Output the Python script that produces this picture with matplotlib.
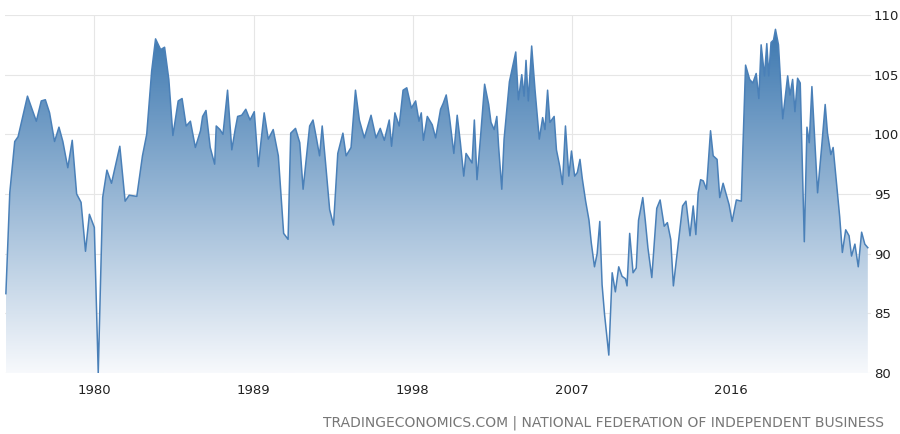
import matplotlib.pyplot as plt
import numpy as np
from matplotlib.patches import Polygon

# NFIB small business optimism index
years = [
    1975.0, 1975.22, 1975.5, 1975.69, 1976.22, 1976.72, 1977.0, 1977.23, 1977.47, 1977.75,
    1978.0, 1978.22, 1978.5, 1978.75, 1979.0, 1979.25, 1979.5, 1979.72, 1980.0, 1980.22,
    1980.47, 1980.71, 1980.97, 1981.44, 1981.74, 1981.97, 1982.4, 1982.72, 1982.96, 1983.24,
    1983.46, 1983.75, 1983.97, 1984.21, 1984.44, 1984.74, 1984.96, 1985.19, 1985.43, 1985.71,
    1986.0, 1986.12, 1986.31, 1986.55, 1986.8, 1986.89, 1987.1, 1987.27, 1987.53, 1987.77,
    1987.96, 1988.1, 1988.33, 1988.56, 1988.8, 1989.04, 1989.27, 1989.42, 1989.6, 1989.83,
    1990.11, 1990.4, 1990.7, 1990.95,
    1991.1, 1991.37, 1991.61, 1991.8, 1992.17, 1992.36, 1992.55, 1992.73, 1992.88, 1993.07,
    1993.3, 1993.52, 1993.76, 1994.05, 1994.23, 1994.51, 1994.76, 1994.98, 1995.26, 1995.64,
    1995.92, 1996.16, 1996.39, 1996.67, 1996.8, 1996.99, 1997.23, 1997.45, 1997.66, 1997.92,
    1998.16, 1998.35, 1998.48, 1998.6, 1998.82, 1999.1, 1999.29, 1999.57, 1999.72, 1999.89,
    2000.07, 2000.32, 2000.51, 2000.69, 2000.88, 2001.01, 2001.22, 2001.35, 2001.48, 2001.63,
    2001.82, 2002.06, 2002.29, 2002.42, 2002.6, 2002.75, 2002.85, 2003.03, 2003.16, 2003.46,
    2003.82, 2003.97, 2004.16, 2004.29, 2004.4, 2004.53, 2004.72, 2004.91, 2005.15, 2005.34,
    2005.47, 2005.62, 2005.75, 2005.99, 2006.12, 2006.31, 2006.46, 2006.63, 2006.82, 2006.97,
    2007.15,
    2007.3, 2007.45, 2007.58, 2007.77, 2007.96, 2008.09, 2008.27, 2008.42, 2008.57, 2008.7,
    2008.84, 2009.08, 2009.27, 2009.45, 2009.64, 2009.83, 2010.02, 2010.11, 2010.26, 2010.45,
    2010.63, 2010.76, 2011.0, 2011.14, 2011.29, 2011.51, 2011.79, 2011.98, 2012.21, 2012.39,
    2012.58, 2012.73, 2013.01, 2013.25, 2013.44, 2013.67, 2013.85, 2014.0, 2014.13, 2014.27,
    2014.42, 2014.6, 2014.83, 2014.98, 2015.2, 2015.35, 2015.54, 2015.69, 2015.88, 2016.05,
    2016.29, 2016.57, 2016.66, 2016.81, 2017.04, 2017.22, 2017.41, 2017.56, 2017.69, 2017.88,
    2018.01, 2018.12, 2018.25, 2018.39, 2018.5, 2018.67, 2018.91, 2019.19, 2019.32, 2019.47,
    2019.6, 2019.75, 2019.9, 2020.13, 2020.28, 2020.41, 2020.56, 2020.69, 2020.88, 2021.12,
    2021.31, 2021.44, 2021.63, 2021.76, 2021.95, 2022.13, 2022.28, 2022.47, 2022.66, 2022.8,
    2022.99, 2023.18, 2023.37, 2023.55, 2023.72,
]
values = [
    86.65, 95.1, 99.4, 99.8, 103.2, 101.1, 102.8, 102.9, 101.8, 99.4,
    100.6, 99.4, 97.2, 99.5, 95.0, 94.3, 90.2, 93.3, 92.2, 80.0,
    94.7, 97.0, 95.9, 99.0, 94.4, 94.9, 94.8, 98.2, 100.0, 105.3,
    108.0, 107.1, 107.3, 104.6, 99.9, 102.8, 103.0, 100.7, 101.1, 98.9,
    100.3, 101.5, 102.0, 98.9, 97.5, 100.7, 100.4, 100.0, 103.7, 98.7,
    100.4, 101.5, 101.6, 102.1, 101.2, 101.9, 97.3, 99.4, 101.8, 99.6,
    100.4, 98.2, 91.7, 91.2,
    100.1, 100.5, 99.3, 95.4, 100.7, 101.2, 99.7, 98.2, 100.7, 97.6,
    93.7, 92.4, 98.4, 100.1, 98.2, 98.9, 103.7, 101.2, 99.7, 101.6,
    99.7, 100.5, 99.5, 101.2, 99.0, 101.8, 100.7, 103.7, 103.9, 102.2,
    102.8, 101.1, 101.8, 99.5, 101.5, 100.8, 99.7, 102.1, 102.6, 103.3,
    101.5, 98.4, 101.6, 99.3, 96.5, 98.4, 97.9, 97.6, 101.2, 96.2,
    99.6, 104.2, 102.5, 101.0, 100.4, 101.5, 99.0, 95.4, 99.6, 104.4,
    106.9, 102.9, 105.0, 103.2, 106.2, 102.8, 107.4, 103.7, 99.6, 101.4,
    100.4, 103.7, 101.0, 101.5, 98.7, 97.3, 95.8, 100.7, 96.5, 98.6,
    96.5,
    96.8, 97.9, 96.3, 94.4, 92.8, 90.9, 88.9, 90.0, 92.7, 87.4,
    84.9, 81.5, 88.4, 86.8, 88.9, 88.1, 87.9, 87.3, 91.7, 88.4,
    88.8, 92.8, 94.7, 92.8, 90.5, 88.0, 93.8, 94.5, 92.3, 92.6,
    91.2, 87.3, 90.9, 94.0, 94.4, 91.5, 94.0, 91.6, 95.1, 96.2,
    96.1, 95.4, 100.3, 98.2, 97.9, 94.7, 95.9, 95.1, 94.1, 92.7,
    94.5, 94.4, 98.9, 105.8, 104.6, 104.3, 105.1, 103.0, 107.5, 104.9,
    107.6, 104.9, 107.7, 107.9, 108.8, 107.5, 101.3, 104.9, 103.3, 104.6,
    101.9, 104.7, 104.3, 91.0, 100.6, 99.3, 104.0, 100.4, 95.1, 99.1,
    102.5, 100.1, 98.3, 98.9, 95.9, 93.1, 90.1, 92.0, 91.5, 89.8,
    90.8, 88.9, 91.8, 90.8, 90.5,
]
tick_years = [1980, 1989, 1998, 2007, 2016]
y_ticks = [80, 85, 90, 95, 100, 105, 110]

fig = plt.figure(figsize=(9, 4.34), dpi=100)
ax = fig.add_axes([5 / 900, 1 - 373 / 434, 866 / 900, 358 / 434])

x = np.array(years)
y = np.array(values)
ymin, ymax = 80, 110

# vertical gradient fill clipped to the area under the line
grad = np.linspace(1, 0, 256).reshape(-1, 1)
top = np.array([0x3d, 0x78, 0xb0]) / 255
bottom = np.array([0xf7, 0xf9, 0xfc]) / 255
img = bottom + (top - bottom) * grad[..., None]
im = ax.imshow(img, aspect="auto", extent=[x[0], x[-1], ymin, y.max()],
               origin="upper", zorder=1)
poly = Polygon(np.column_stack([np.r_[x[0], x, x[-1]], np.r_[ymin, y, ymin]]),
               closed=True, facecolor="none", edgecolor="none")
ax.add_patch(poly)
im.set_clip_path(poly)

ax.plot(x, y, color="#4a80b8", lw=1.1, zorder=3)

ax.set_xlim(1974.95, 2023.9)
ax.set_ylim(ymin, ymax)
ax.set_xticks(tick_years)
ax.set_xticklabels([str(t) for t in tick_years])
ax.set_yticks(y_ticks)
ax.yaxis.tick_right()
ax.tick_params(length=0, labelsize=9.5, colors="#222222")
ax.tick_params(axis="y", pad=2)
ax.tick_params(axis="x", pad=8)
ax.grid(True, color="#e6e6e6", lw=0.8, zorder=0)
ax.set_axisbelow(True)
for s in ax.spines.values():
    s.set_visible(False)

fig.text(0.982, 0.01, "TRADINGECONOMICS.COM | NATIONAL FEDERATION OF INDEPENDENT BUSINESS",
         ha="right", va="bottom", fontsize=10, color="#777777")

fig.savefig("out.png", dpi=100)
